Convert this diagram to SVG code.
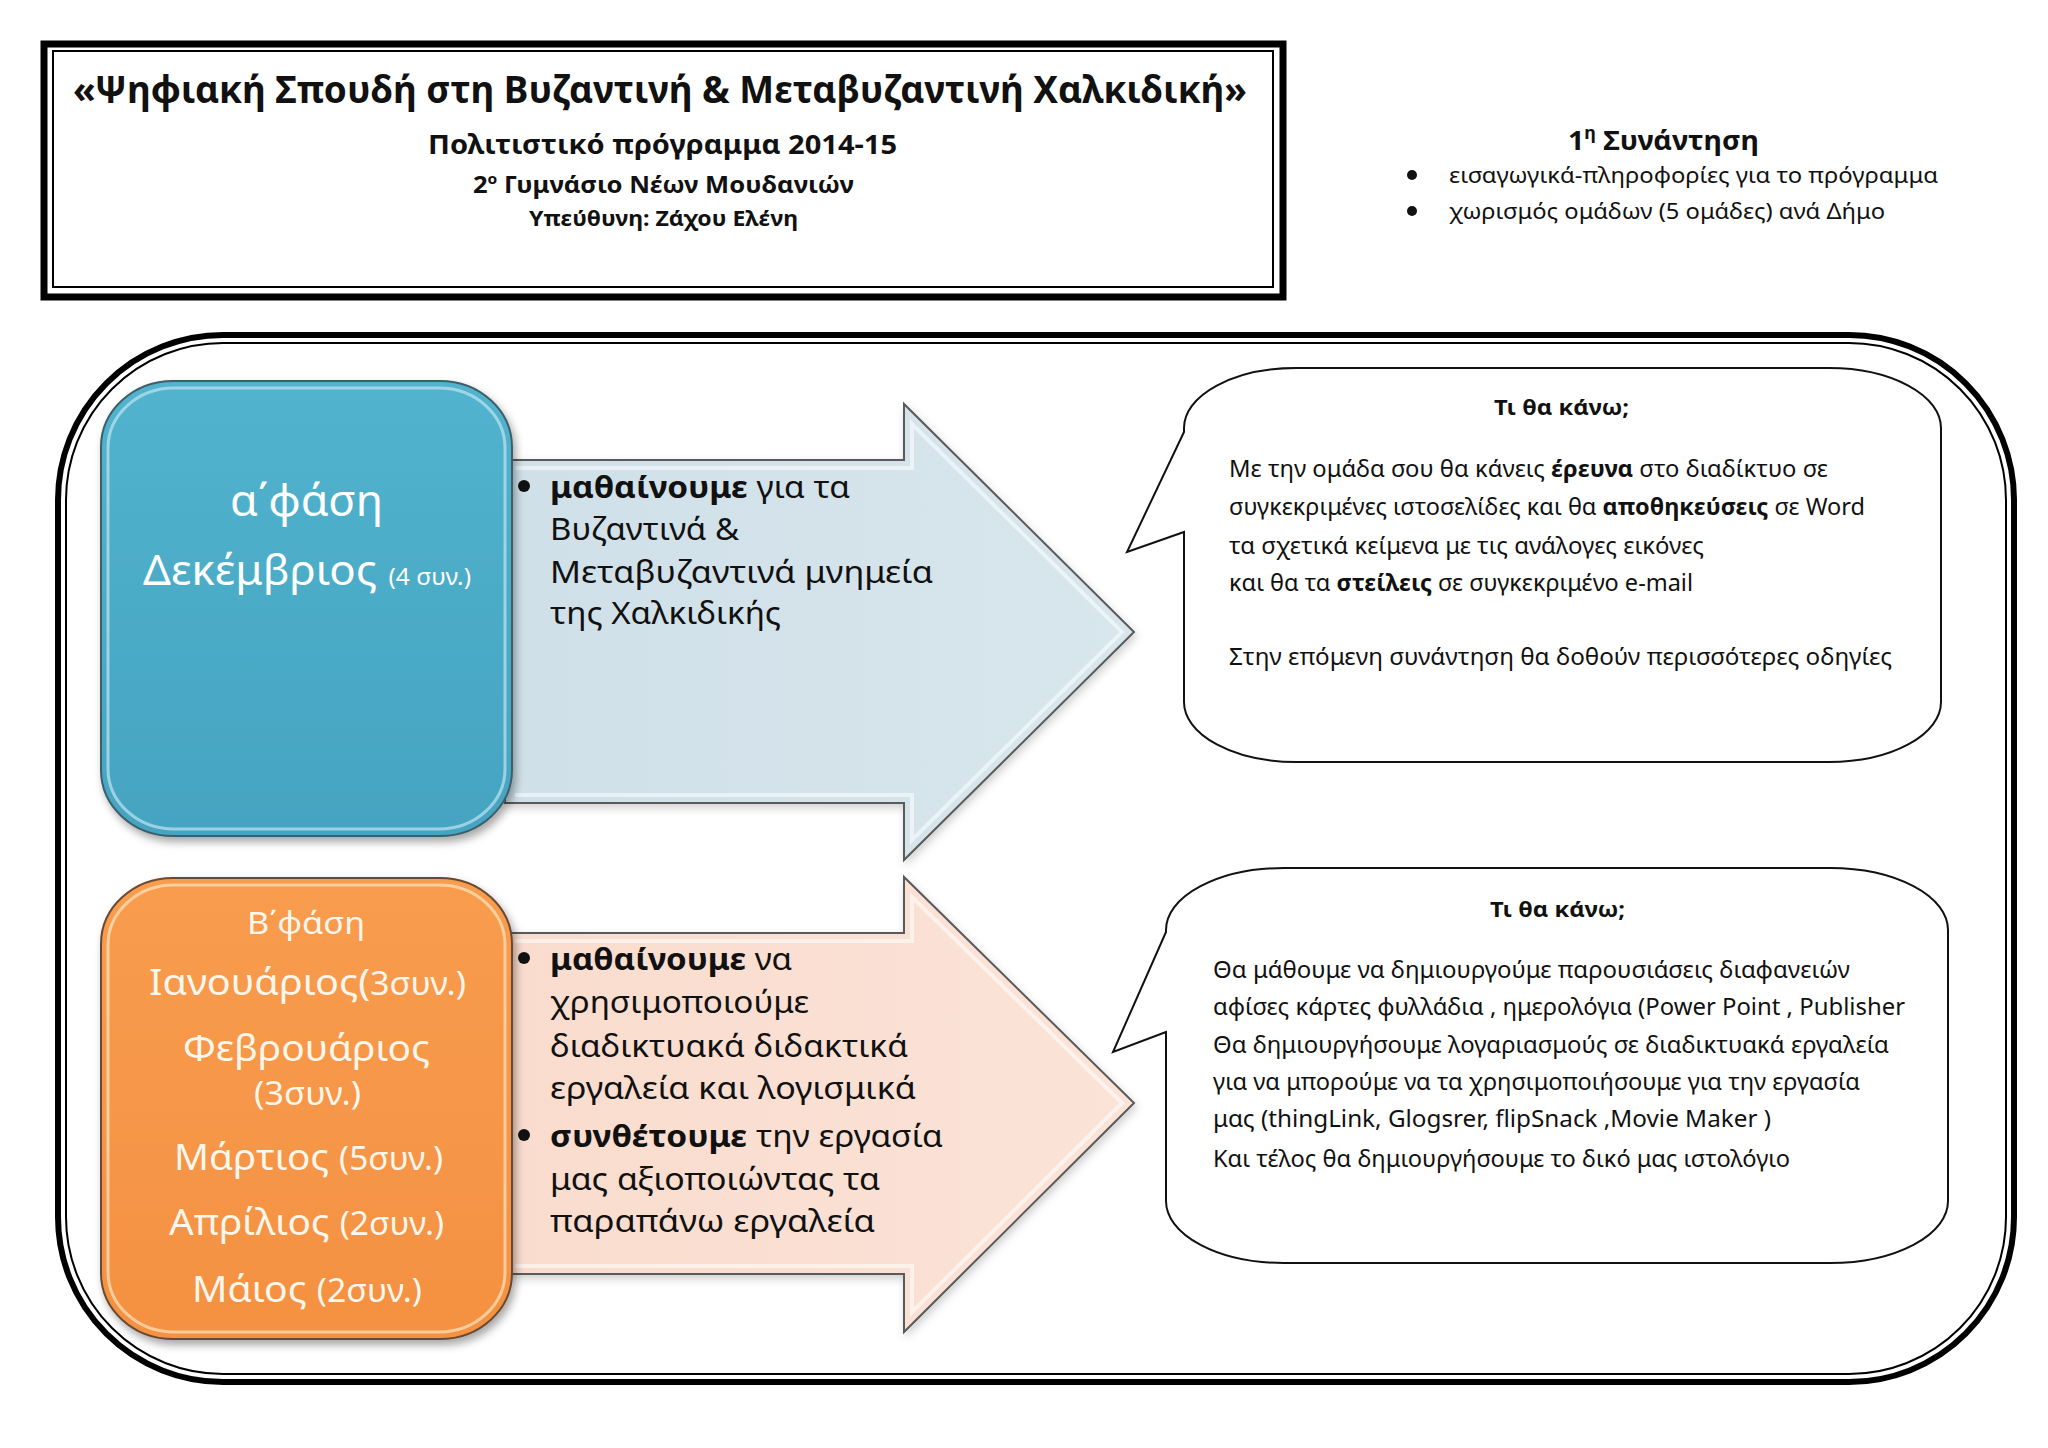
<svg xmlns="http://www.w3.org/2000/svg" width="2048" height="1448" viewBox="0 0 2048 1448">
<defs>
<style>
text{font-family:"Noto Sans","Open Sans","DejaVu Sans",sans-serif;}
.b{font-weight:bold;}
.dark{fill:#111111;}
.wht{fill:#ffffff;}
.cream{fill:#fff6ec;}
.callout{fill:#ffffff;stroke:#111111;stroke-width:2;}
.arrowline{stroke:#5a5a5a;stroke-width:2;}
.bevel{fill:none;stroke:#ffffff;stroke-opacity:0.55;stroke-width:4;}
.dot{fill:#111111;}
</style>
<linearGradient id="gBlue" x1="0" y1="0" x2="0" y2="1">
<stop offset="0" stop-color="#52b3ce"/>
<stop offset="1" stop-color="#45a4c1"/>
</linearGradient>
<linearGradient id="gOrange" x1="0" y1="0" x2="0" y2="1">
<stop offset="0" stop-color="#f89c4e"/>
<stop offset="1" stop-color="#f49142"/>
</linearGradient>
<linearGradient id="gArrowB" x1="0" y1="0" x2="1" y2="0">
<stop offset="0" stop-color="#d0e0e8"/>
<stop offset="1" stop-color="#d8e6ed"/>
</linearGradient>
<linearGradient id="gArrowO" x1="0" y1="0" x2="1" y2="0">
<stop offset="0" stop-color="#f9dccd"/>
<stop offset="1" stop-color="#fbe3d8"/>
</linearGradient>
<filter id="shadow" x="-10%" y="-10%" width="125%" height="125%">
<feDropShadow dx="3" dy="5" stdDeviation="4" flood-color="#000000" flood-opacity="0.35"/>
</filter>
<filter id="shadowSoft" x="-10%" y="-10%" width="125%" height="125%">
<feDropShadow dx="2" dy="4" stdDeviation="4" flood-color="#000000" flood-opacity="0.18"/>
</filter>
</defs>

<rect width="2048" height="1448" fill="#ffffff"/>

<!-- Title box -->
<g id="title">
<rect x="44" y="44" width="1239" height="253" fill="#ffffff" stroke="#000000" stroke-width="7"/>
<rect x="53" y="51" width="1220" height="236" fill="none" stroke="#000000" stroke-width="2"/>
<text class="b dark" x="73" y="103" font-size="37" textLength="1174" lengthAdjust="spacingAndGlyphs">«Ψηφιακή Σπουδή στη Βυζαντινή &amp; Μεταβυζαντινή Χαλκιδική»</text>
<text class="b dark" x="428" y="154" font-size="27" textLength="469" lengthAdjust="spacingAndGlyphs">Πολιτιστικό πρόγραμμα 2014-15</text>
<text class="b dark" x="473" y="193" font-size="23" textLength="381" lengthAdjust="spacingAndGlyphs">2<tspan font-size="14" dy="-9">ο</tspan><tspan dy="9"> Γυμνάσιο Νέων Μουδανιών</tspan></text>
<text class="b dark" x="529" y="226" font-size="21" textLength="269" lengthAdjust="spacingAndGlyphs">Υπεύθυνη: Ζάχου Ελένη</text>
</g>

<!-- First meeting note -->
<g id="meeting1">
<text class="b dark" x="1568" y="150" font-size="27" textLength="191" lengthAdjust="spacingAndGlyphs">1<tspan font-size="17" dy="-11">η</tspan><tspan dy="11"> Συνάντηση</tspan></text>
<circle class="dot" cx="1412" cy="175" r="5"/>
<text class="dark" x="1449" y="183" font-size="22" textLength="489" lengthAdjust="spacingAndGlyphs">εισαγωγικά-πληροφορίες για το πρόγραμμα</text>
<circle class="dot" cx="1412" cy="211" r="5"/>
<text class="dark" x="1449" y="219" font-size="22" textLength="436" lengthAdjust="spacingAndGlyphs">χωρισμός ομάδων (5 ομάδες) ανά Δήμο</text>
</g>

<!-- Outer frame -->
<g id="frame">
<rect x="58" y="335" width="1956" height="1047" rx="165" ry="165" fill="none" stroke="#000000" stroke-width="6"/>
<rect x="66" y="343" width="1940" height="1031" rx="157" ry="157" fill="none" stroke="#000000" stroke-width="2"/>
</g>

<g id="connectors"></g>

<!-- Arrow 1 -->
<g id="arrow1">
<path d="M505,460 H904 V404 L1134,632 L904,860 V803 H505 Z" fill="url(#gArrowB)" class="arrowline" filter="url(#shadowSoft)"/>
<path d="M515,468 H912 V424 L1122,632 L912,840 V795 H515" class="bevel"/>
<circle class="dot" cx="524" cy="486" r="6"/>
<text class="dark" x="550" y="498" font-size="31" textLength="300" lengthAdjust="spacingAndGlyphs"><tspan class="b">μαθαίνουμε</tspan> για τα</text>
<text class="dark" x="550" y="540" font-size="31" textLength="189" lengthAdjust="spacingAndGlyphs">Βυζαντινά  &amp;</text>
<text class="dark" x="550" y="583" font-size="31" textLength="383" lengthAdjust="spacingAndGlyphs">Μεταβυζαντινά  μνημεία</text>
<text class="dark" x="550" y="624" font-size="31" textLength="231" lengthAdjust="spacingAndGlyphs">της Χαλκιδικής</text>
</g>

<!-- Arrow 2 -->
<g id="arrow2">
<path d="M505,933 H904 V877 L1134,1103 L904,1332 V1274 H505 Z" fill="url(#gArrowO)" class="arrowline" filter="url(#shadowSoft)"/>
<path d="M515,941 H912 V897 L1122,1103 L912,1312 V1266 H515" class="bevel"/>
<circle class="dot" cx="524" cy="958" r="6"/>
<text class="dark" x="550" y="970" font-size="31" textLength="242" lengthAdjust="spacingAndGlyphs"><tspan class="b">μαθαίνουμε</tspan> να</text>
<text class="dark" x="550" y="1013" font-size="31" textLength="259" lengthAdjust="spacingAndGlyphs">χρησιμοποιούμε</text>
<text class="dark" x="550" y="1057" font-size="31" textLength="358" lengthAdjust="spacingAndGlyphs">διαδικτυακά διδακτικά</text>
<text class="dark" x="550" y="1099" font-size="31" textLength="366" lengthAdjust="spacingAndGlyphs">εργαλεία και λογισμικά</text>
<circle class="dot" cx="524" cy="1135" r="6"/>
<text class="dark" x="550" y="1147" font-size="31" textLength="393" lengthAdjust="spacingAndGlyphs"><tspan class="b">συνθέτουμε</tspan> την εργασία</text>
<text class="dark" x="550" y="1190" font-size="31" textLength="330" lengthAdjust="spacingAndGlyphs">μας αξιοποιώντας τα</text>
<text class="dark" x="550" y="1232" font-size="31" textLength="325" lengthAdjust="spacingAndGlyphs">παραπάνω εργαλεία</text>
</g>

<!-- Phase A box -->
<g id="phaseA">
<rect x="101" y="381" width="411" height="455" rx="72" ry="66" fill="url(#gBlue)" stroke="#3d5f6b" stroke-width="2" filter="url(#shadow)"/>
<rect x="108" y="388" width="397" height="441" rx="66" ry="60" fill="none" stroke="#bfe6f1" stroke-opacity="0.7" stroke-width="3"/>
<text class="wht" x="230" y="516" font-size="44" textLength="153" lengthAdjust="spacingAndGlyphs">α΄φάση</text>
<text class="wht" x="143" y="585" font-size="41" textLength="328" lengthAdjust="spacingAndGlyphs">Δεκέμβριος <tspan font-size="23">(4 συν.)</tspan></text>
</g>

<!-- Phase B box -->
<g id="phaseB">
<rect x="101" y="878" width="411" height="461" rx="72" ry="66" fill="url(#gOrange)" stroke="#6b4a30" stroke-width="2" filter="url(#shadow)"/>
<rect x="108" y="885" width="397" height="447" rx="66" ry="60" fill="none" stroke="#fde0b8" stroke-opacity="0.75" stroke-width="3"/>
<text class="cream" x="247" y="934" font-size="30" textLength="118" lengthAdjust="spacingAndGlyphs">Β΄φάση</text>
<text class="cream" x="149" y="995" font-size="37" textLength="317" lengthAdjust="spacingAndGlyphs">Ιανουάριος(<tspan font-size="32">3συν.)</tspan></text>
<text class="cream" x="183" y="1061" font-size="37" textLength="247" lengthAdjust="spacingAndGlyphs">Φεβρουάριος</text>
<text class="cream" x="254" y="1105" font-size="32" textLength="107" lengthAdjust="spacingAndGlyphs">(3συν.)</text>
<text class="cream" x="174" y="1170" font-size="37" textLength="269" lengthAdjust="spacingAndGlyphs">Μάρτιος <tspan font-size="32">(5συν.)</tspan></text>
<text class="cream" x="169" y="1235" font-size="37" textLength="275" lengthAdjust="spacingAndGlyphs">Απρίλιος <tspan font-size="32">(2συν.)</tspan></text>
<text class="cream" x="192" y="1302" font-size="37" textLength="230" lengthAdjust="spacingAndGlyphs">Μάιος <tspan font-size="32">(2συν.)</tspan></text>
</g>

<!-- Callout 1 -->
<g id="callout1">
<path class="callout" d="M1296,368 H1829 A112,60 0 0 1 1941,428 V702 A112,60 0 0 1 1829,762 H1296 A112,60 0 0 1 1184,702 V532 L1127,552 L1184,432 V428 A112,60 0 0 1 1296,368 Z"/>
<text class="b dark" x="1494" y="415" font-size="22" textLength="135" lengthAdjust="spacingAndGlyphs">Τι θα κάνω;</text>
<text class="dark" x="1229" y="477" font-size="23" textLength="599" lengthAdjust="spacingAndGlyphs">Με την ομάδα σου θα κάνεις <tspan class="b">έρευνα</tspan> στο διαδίκτυο σε</text>
<text class="dark" x="1229" y="515" font-size="23" textLength="636" lengthAdjust="spacingAndGlyphs">συγκεκριμένες ιστοσελίδες και θα <tspan class="b">αποθηκεύσεις</tspan> σε Word</text>
<text class="dark" x="1229" y="554" font-size="23" textLength="475" lengthAdjust="spacingAndGlyphs">τα σχετικά κείμενα με τις ανάλογες εικόνες</text>
<text class="dark" x="1229" y="591" font-size="23" textLength="464" lengthAdjust="spacingAndGlyphs">και θα τα <tspan class="b">στείλεις</tspan> σε συγκεκριμένο e-mail</text>
<text class="dark" x="1229" y="665" font-size="23" textLength="663" lengthAdjust="spacingAndGlyphs">Στην επόμενη συνάντηση θα δοθούν περισσότερες οδηγίες</text>
</g>

<!-- Callout 2 -->
<g id="callout2">
<path class="callout" d="M1284,868 H1830 A118,62 0 0 1 1948,930 V1201 A118,62 0 0 1 1830,1263 H1284 A118,62 0 0 1 1166,1201 V1032 L1113,1052 L1166,932 V930 A118,62 0 0 1 1284,868 Z"/>
<text class="b dark" x="1490" y="917" font-size="22" textLength="135" lengthAdjust="spacingAndGlyphs">Τι θα κάνω;</text>
<text class="dark" x="1213" y="978" font-size="24" textLength="637" lengthAdjust="spacingAndGlyphs">Θα μάθουμε να δημιουργούμε παρουσιάσεις διαφανειών</text>
<text class="dark" x="1213" y="1015" font-size="24" textLength="692" lengthAdjust="spacingAndGlyphs">αφίσες κάρτες φυλλάδια , ημερολόγια (Power Point , Publisher</text>
<text class="dark" x="1213" y="1053" font-size="24" textLength="676" lengthAdjust="spacingAndGlyphs">Θα δημιουργήσουμε λογαριασμούς σε διαδικτυακά εργαλεία</text>
<text class="dark" x="1213" y="1090" font-size="24" textLength="647" lengthAdjust="spacingAndGlyphs">για να μπορούμε να τα χρησιμοποιήσουμε για την εργασία</text>
<text class="dark" x="1213" y="1127" font-size="24" textLength="558" lengthAdjust="spacingAndGlyphs">μας (thingLink, Glogsrer,  flipSnack ,Movie Maker )</text>
<text class="dark" x="1213" y="1167" font-size="24" textLength="577" lengthAdjust="spacingAndGlyphs">Και τέλος θα δημιουργήσουμε το δικό μας ιστολόγιο</text>
</g>
</svg>
